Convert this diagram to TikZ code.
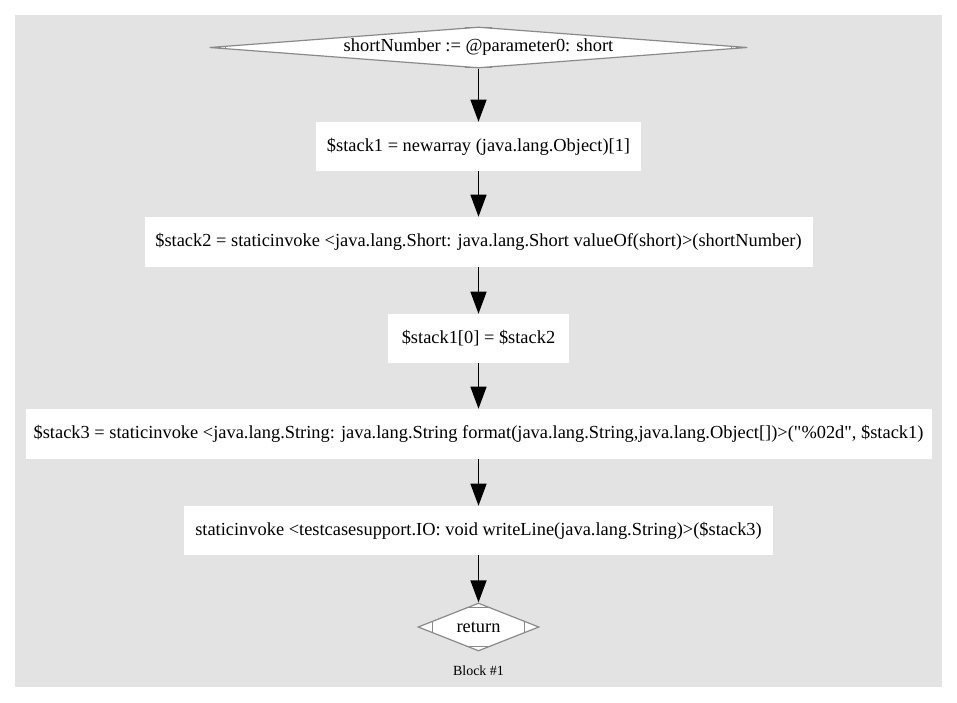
\documentclass[tikz,border=0pt]{standalone}
\usepackage{fontspec}
\setmainfont{Liberation Serif}[Ligatures=TeXOff]
\usetikzlibrary{shapes.geometric,arrows.meta,calc}
\newlength{\gvpx}
\setlength{\gvpx}{0.75pt}
\definecolor{clusterbg}{HTML}{E3E3E3}
\definecolor{mdline}{HTML}{8A8A8A}
\tikzset{
  stmt/.style={fill=white, inner sep=0pt, font=\fontsize{13.8}{16}\selectfont},
  mdiam/.style={diamond, draw=mdline, line width=0.9pt, fill=white, inner sep=0pt, font=\fontsize{13.8}{16}\selectfont},
  flow/.style={-{Triangle[length=16.5pt, width=12pt]}, line width=1pt}
}
\begin{document}
\begin{tikzpicture}[x=0.75pt, y=-0.75pt]
            \useasboundingbox (0,0) rectangle (957,703);
            \fill[clusterbg] (15,15) rectangle (942,687);

            \node[mdiam, shape aspect=13.1, minimum width=538\gvpx, minimum height=41\gvpx] (param) at (478.5,47.5) {shortNumber := @parameter0: short};
            \node[stmt, minimum width=325\gvpx, minimum height=49\gvpx] (newarr) at (478.5,146.5) {\$stack1 = newarray (java.lang.Object)[1]};
            \node[stmt, minimum width=668\gvpx, minimum height=50\gvpx] (boxing) at (478.5,242) {\$stack2 = staticinvoke <java.lang.Short: java.lang.Short valueOf(short)>(shortNumber)};
            \node[stmt, minimum width=181\gvpx, minimum height=49\gvpx] (store) at (478.5,338.5) {\$stack1[0] = \$stack2};
            \node[stmt, minimum width=906\gvpx, minimum height=50\gvpx] (fmt) at (478.5,434) {\$stack3 = staticinvoke <java.lang.String: java.lang.String format(java.lang.String,java.lang.Object[])>("\%02d", \$stack1)};
            \node[stmt, minimum width=589\gvpx, minimum height=49\gvpx] (print) at (478.5,530.5) {staticinvoke <testcasesupport.IO: void writeLine(java.lang.String)>(\$stack3)};
            \node[mdiam, shape aspect=2.5, minimum width=121\gvpx, minimum height=48\gvpx] (ret) at (478.5,627) {return};
            \node[font=\fontsize{10.5}{12}\selectfont, inner sep=0pt] (blocklbl) at (478.5,671) {Block \#1};

            \draw[mdline, line width=0.9pt] ($(param.north)!0.05!(param.west)$) -- ($(param.north)!0.05!(param.east)$);
            \draw[mdline, line width=0.9pt] ($(param.south)!0.05!(param.west)$) -- ($(param.south)!0.05!(param.east)$);
            \draw[mdline, line width=0.9pt] ($(param.west)!0.063!(param.north)$) -- ($(param.west)!0.063!(param.south)$);
            \draw[mdline, line width=0.9pt] ($(param.east)!0.063!(param.north)$) -- ($(param.east)!0.063!(param.south)$);
            \draw[mdline, line width=0.9pt] ($(ret.north)!0.2!(ret.west)$) -- ($(ret.north)!0.2!(ret.east)$);
            \draw[mdline, line width=0.9pt] ($(ret.south)!0.2!(ret.west)$) -- ($(ret.south)!0.2!(ret.east)$);
            \draw[mdline, line width=0.9pt] ($(ret.west)!0.25!(ret.north)$) -- ($(ret.west)!0.25!(ret.south)$);
            \draw[mdline, line width=0.9pt] ($(ret.east)!0.25!(ret.north)$) -- ($(ret.east)!0.25!(ret.south)$);

            \draw[flow] (param) -- (newarr);
            \draw[flow] (newarr) -- (boxing);
            \draw[flow] (boxing) -- (store);
            \draw[flow] (store) -- (fmt);
            \draw[flow] (fmt) -- (print);
            \draw[flow] (print) -- (ret);
        \end{tikzpicture}
\end{document}
